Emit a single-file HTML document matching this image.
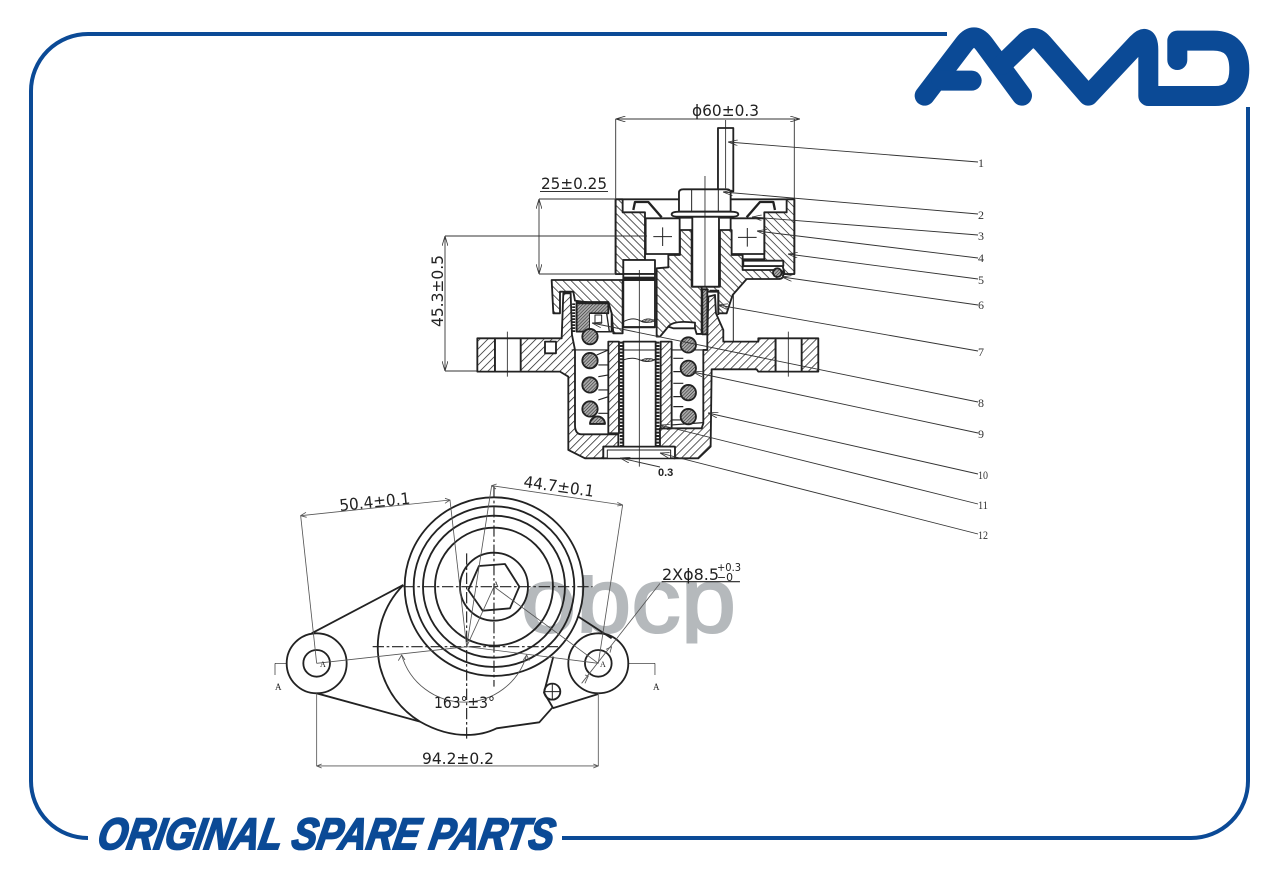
<!DOCTYPE html>
<html><head><meta charset="utf-8"><style>
html,body{margin:0;padding:0;background:#fff}
svg{display:block}
text{font-family:"Liberation Sans",sans-serif;fill:#222}
.n{font-family:"Liberation Serif",serif;font-size:12px;fill:#333}
.d{font-size:16px;font-family:"DejaVu Sans","Liberation Sans",sans-serif}
</style></head><body>
<svg width="1280" height="872" viewBox="0 0 1280 872" xmlns="http://www.w3.org/2000/svg">
<defs>
<pattern id="a" patternUnits="userSpaceOnUse" width="17" height="17" patternTransform="rotate(45)"><rect width="17" height="17" fill="#fff"/><line x1="0" y1="0" x2="0" y2="17" stroke="#222" stroke-width="4.5"/></pattern>
<pattern id="b" patternUnits="userSpaceOnUse" width="17" height="17" patternTransform="rotate(-45)"><rect width="17" height="17" fill="#fff"/><line x1="0" y1="0" x2="0" y2="17" stroke="#222" stroke-width="4.5"/></pattern>
<pattern id="c" patternUnits="userSpaceOnUse" width="7" height="7" patternTransform="rotate(45)"><rect width="7" height="7" fill="#aaa"/><line x1="0" y1="0" x2="0" y2="7" stroke="#222" stroke-width="3"/></pattern>
<marker id="ar" viewBox="0 0 10 6" refX="10" refY="3" markerWidth="10" markerHeight="6" orient="auto-start-reverse" markerUnits="userSpaceOnUse"><path d="M0,0L10,3L0,6" fill="none" stroke="#333" stroke-width="0.8"/></marker>
</defs>
<rect width="1280" height="872" fill="#fff"/>

<!-- watermark -->
<text x="521" y="632" font-size="92" textLength="215" lengthAdjust="spacingAndGlyphs" style="fill:#b5b9bc;stroke:#b5b9bc;stroke-width:2">obcp</text>
<rect x="570" y="555" width="50" height="20" fill="#fff"/>
<rect x="670" y="643.500" width="40" height="14" fill="#fff"/>

<!-- frame -->
<path d="M947,34H88A57,57 0 0 0 31,91V781A57,57 0 0 0 88,838" fill="none" stroke="#0b4a96" stroke-width="4"/>
<path d="M562,838H1191A57,57 0 0 0 1248,781V107" fill="none" stroke="#0b4a96" stroke-width="4"/>

<!-- logo -->
<g transform="translate(900,10) scale(.3333)" fill="none" stroke="#0b4a96" stroke-width="60" stroke-linecap="round" stroke-linejoin="round">
<path d="M74,257L192,102Q222,62 252,102L366,257"/>
<path d="M125,212H215"/>
<path d="M305,165L372,100Q400,68 428,100L565,257L712,100Q745,66 745,120V258H945Q1018,258 1018,178Q1018,92 940,92H832V150"/>
</g>

<!-- bottom text -->
<g transform="translate(96,850) skewX(-10)">
<text x="0" y="-1" font-size="44" font-weight="bold" textLength="456" lengthAdjust="spacingAndGlyphs" style="fill:#0b4a96;stroke:#0b4a96;stroke-width:2;font-style:italic">ORIGINAL SPARE PARTS</text>
</g>

<!-- section view -->
<g transform="translate(470,100) scale(.3333)" stroke="#222" stroke-width="5.5" stroke-linejoin="round" fill="#fff">
<rect x="744" y="84" width="46" height="190"/>
<line x1="767" y1="60" x2="767" y2="265" stroke-width="2.5"/>
<line x1="790" y1="560" x2="790" y2="725" stroke-width="3"/>
<!-- pulley -->
<rect x="437" y="298" width="536" height="224"/>
<path d="M437,298H458V337H525V480H460V522H437Z" fill="url(#b)"/>
<path d="M973,298H950V337H883V478H820V498H938L944,522H973Z" fill="url(#b)"/>
<rect x="820" y="482" width="120" height="16"/>
<path d="M490,330L495,306H535L575,352M915,330L910,306H870L830,352" fill="none" stroke-width="7"/>
<rect x="527" y="355" width="102" height="107"/>
<rect x="782" y="355" width="101" height="107"/>
<path d="M578,382V438M550,410H606M832,384V440M804,412H860" stroke-width="3"/>
<rect x="460" y="480" width="95" height="42"/>
<!-- hub -->
<path d="M560,505L595,502V465L630,465V390H665V560H695V702H680L675,685L660,680H595L570,710H560Z" fill="url(#b)"/>
<path d="M750,390H785V465H818V510H925Q940,510 940,525Q940,537 925,537H830L788,585L770,640H745V575H695V560H750Z" fill="url(#b)"/>
<circle cx="922" cy="518" r="13" fill="url(#c)"/>
<!-- bolt -->
<rect x="667" y="350" width="80" height="210"/>
<path d="M627,335V278Q627,268 640,268H770Q782,268 782,278V335Z"/>
<path d="M665,268V335M745,268V335" stroke-width="3"/>
<path d="M605,343Q605,335 628,335H782Q805,335 805,343Q805,350 782,350H628Q605,350 605,343Z"/>
<path d="M630,352H665M750,352H782" stroke-width="8" fill="none"/>
<line x1="705" y1="228" x2="705" y2="560" stroke-width="2.5"/>
<!-- arm -->
<path d="M245,540H458V700H430L425,640L415,615L315,602L310,575H270V640H250Z" fill="url(#b)"/>
<!-- central shaft -->
<rect x="460" y="522" width="95" height="160"/>
<rect x="460" y="530" width="95" height="13" fill="#222" stroke="none"/>
<path d="M460,665Q490,650 510,662T555,658M460,680H555" fill="none" stroke-width="3"/>
<path d="M515,663Q535,650 555,663Q535,672 515,663Z" fill="url(#c)" stroke-width="2"/>
<!-- housing -->
<path d="M22,715H75V815H22Z" fill="url(#a)"/>
<path d="M152,715H275L280,580H302L306,705L315,750V975Q315,1003 335,1003H445V1040H400V1075H345L295,1050V830L270,815H152Z" fill="url(#a)"/>
<rect x="225" y="725" width="33" height="35"/>
<path d="M712,710L715,590L735,585L738,640L760,690V725H865V715H917V815H865L860,808H725L722,1040L685,1075H612V1040H570V985H695L700,970V750H712Z" fill="url(#a)"/>
<path d="M995,715H1045V815H995Z" fill="url(#a)"/>
<path d="M75,715H152V815H75ZM917,715H995V815H917Z"/>
<line x1="112" y1="695" x2="112" y2="830" stroke-width="2.5"/>
<line x1="955" y1="695" x2="955" y2="830" stroke-width="2.5"/>
<!-- seal -->
<path d="M320,606H415L425,640V695H320Z" fill="#fff"/>
<path d="M320,610H415V640H360V695H320Z" fill="url(#c)"/>
<path d="M360,640H410L418,695H360" fill="#fff" stroke-width="4"/>
<path d="M375,645H395V670H375Z" fill="none" stroke-width="3"/>
<path d="M311,610V697" stroke-width="9" stroke-dasharray="5 4" fill="none"/>
<rect x="697" y="568" width="15" height="135" fill="url(#c)"/>
<path d="M720,572H745L745,645" fill="none"/>
<path d="M595,680Q610,660 675,668V685H610Z" fill="#fff"/>
<!-- sleeve -->
<rect x="415" y="725" width="32" height="275" fill="url(#a)"/>
<path d="M605,725H572V985H605Z" fill="url(#a)"/>
<path d="M454,725V1040M564,725V1040" stroke-width="9" stroke-dasharray="6 4" fill="none"/>
<rect x="460" y="725" width="97" height="320"/>
<line x1="460" y1="750" x2="557" y2="750" stroke-width="3"/>
<path d="M460,780Q490,770 510,780T555,778" fill="none" stroke-width="3"/>
<path d="M515,780Q535,770 555,780Q535,790 515,780Z" fill="url(#c)" stroke-width="2"/>
<!-- springs -->
<path d="M380,765L415,750M385,795H415M385,830L415,825M385,870H415M385,900L415,890M385,940H415M610,775H640M610,815H640M610,850H640M610,890H640M610,920H640M605,960H640M605,975L700,968" fill="none" stroke-width="3.5"/>
<path d="M305,750H415M605,750H705" fill="none" stroke-width="3.5"/>
<circle cx="360" cy="710" r="23" fill="url(#c)"/>
<circle cx="360" cy="782" r="23" fill="url(#c)"/>
<circle cx="360" cy="855" r="23" fill="url(#c)"/>
<circle cx="360" cy="927" r="23" fill="url(#c)"/>
<path d="M360,972A22,22 0 0 1 405,972Z" fill="url(#c)"/>
<circle cx="655" cy="735" r="23" fill="url(#c)"/>
<circle cx="655" cy="805" r="23" fill="url(#c)"/>
<circle cx="655" cy="878" r="23" fill="url(#c)"/>
<circle cx="655" cy="950" r="23" fill="url(#c)"/>
<rect x="400" y="1040" width="215" height="35"/>
<rect x="412" y="1050" width="190" height="25" stroke-width="3"/>
<line x1="508" y1="510" x2="508" y2="1100" stroke-width="2.5"/>
</g>

<!-- section dims & leaders -->
<g fill="none" stroke="#333" stroke-width="0.9">
<line x1="615.7" y1="119" x2="800" y2="119" marker-start="url(#ar)" marker-end="url(#ar)"/>
<line x1="615.7" y1="119" x2="615.7" y2="199"/>
<line x1="794.3" y1="119" x2="794.3" y2="199"/>
<line x1="539" y1="199" x2="539" y2="274" marker-start="url(#ar)" marker-end="url(#ar)"/>
<line x1="539" y1="199" x2="616" y2="199"/>
<line x1="539" y1="274" x2="616" y2="274"/>
<line x1="540" y1="191.500" x2="608" y2="191.500" stroke-width="1.1"/>
<line x1="445" y1="236" x2="445" y2="371" marker-start="url(#ar)" marker-end="url(#ar)"/>
<line x1="445" y1="236" x2="647" y2="236"/>
<line x1="445" y1="371" x2="477" y2="371"/>
<line x1="978" y1="162" x2="728" y2="142" marker-end="url(#ar)"/>
<line x1="978" y1="214" x2="723" y2="192" marker-end="url(#ar)"/>
<line x1="978" y1="235" x2="752" y2="217" marker-end="url(#ar)"/>
<line x1="978" y1="258" x2="757" y2="231" marker-end="url(#ar)"/>
<line x1="978" y1="279" x2="788" y2="254" marker-end="url(#ar)"/>
<line x1="978" y1="305" x2="782" y2="277" marker-end="url(#ar)"/>
<line x1="978" y1="351" x2="718" y2="305" marker-end="url(#ar)"/>
<line x1="978" y1="402" x2="592" y2="323" marker-end="url(#ar)"/>
<line x1="978" y1="433" x2="693" y2="372" marker-end="url(#ar)"/>
<line x1="978" y1="474" x2="708" y2="413" marker-end="url(#ar)"/>
<line x1="978" y1="504" x2="660" y2="425" marker-end="url(#ar)"/>
<line x1="978" y1="534" x2="660" y2="453" marker-end="url(#ar)"/>
<line x1="660" y1="467" x2="620" y2="458" marker-end="url(#ar)"/>
</g>
<text class="d" x="692" y="116" textLength="67" lengthAdjust="spacingAndGlyphs">ϕ60±0.3</text>
<text class="d" x="541" y="189" textLength="66" lengthAdjust="spacingAndGlyphs">25±0.25</text>
<text class="d" transform="translate(443,327) rotate(-90)" x="0" y="0" textLength="72" lengthAdjust="spacingAndGlyphs">45.3±0.5</text>
<text x="658" y="476" font-size="11" font-weight="bold">0.3</text>
<text class="n" x="978" y="167">1</text>
<text class="n" x="978" y="219">2</text>
<text class="n" x="978" y="240">3</text>
<text class="n" x="978" y="262">4</text>
<text class="n" x="978" y="284">5</text>
<text class="n" x="978" y="309">6</text>
<text class="n" x="978" y="356">7</text>
<text class="n" x="978" y="407">8</text>
<text class="n" x="978" y="438">9</text>
<text class="n" x="978" y="479" textLength="10" lengthAdjust="spacingAndGlyphs">10</text>
<text class="n" x="978" y="509" textLength="10" lengthAdjust="spacingAndGlyphs">11</text>
<text class="n" x="978" y="539" textLength="10" lengthAdjust="spacingAndGlyphs">12</text>

<!-- plan view -->
<g transform="translate(270,470) scale(.3333)" fill="none" stroke="#222" stroke-width="5.500" stroke-linejoin="round">
<circle cx="672" cy="350" r="268"/>
<circle cx="672" cy="350" r="241"/>
<circle cx="672" cy="350" r="213"/>
<circle cx="672" cy="350" r="177"/>
<circle cx="672" cy="350" r="102"/>
<path d="M627,288L705,282L748,350L720,415L638,422L595,360Z"/>
<circle cx="140" cy="580" r="90"/>
<circle cx="140" cy="580" r="40"/>
<circle cx="985" cy="580" r="90"/>
<circle cx="985" cy="580" r="40"/>
<path d="M125,490L400,345"/>
<path d="M140,670L450,755"/>
<path d="M925,440L1025,505"/>
<path d="M848,715L985,672"/>
<path d="M400,345A265,265 0 0 0 330,590Q360,700 450,755Q520,795 590,795Q640,795 680,775L808,757L848,712L822,668L850,560"/>
<circle cx="847" cy="665" r="24"/>
<path d="M823,665H871M847,641V689" stroke-width="3"/>
<g stroke-width="3.5" stroke-dasharray="34 8 8 8">
<line x1="400" y1="350" x2="968" y2="350"/>
<line x1="308" y1="530" x2="870" y2="530"/>
<line x1="590" y1="250" x2="590" y2="812"/>
<line x1="672" y1="50" x2="672" y2="650"/>
</g>
<path d="M15,580H50M1075,580H1155M15,580V615M1155,580V615" stroke-width="2"/>
<g stroke="#555" stroke-width="2.5">
<line x1="92" y1="137" x2="540" y2="90"/>
<line x1="92" y1="137" x2="140" y2="580"/>
<line x1="540" y1="90" x2="590" y2="530"/>
<line x1="665" y1="47" x2="1058" y2="105"/>
<line x1="665" y1="47" x2="590" y2="530"/>
<line x1="1058" y1="105" x2="985" y2="580"/>
<line x1="140" y1="670" x2="140" y2="888"/>
<line x1="985" y1="670" x2="985" y2="888"/>
<line x1="140" y1="888" x2="985" y2="888"/>
<line x1="140" y1="580" x2="590" y2="530"/>
<line x1="590" y1="530" x2="985" y2="580"/>
<line x1="672" y1="350" x2="590" y2="530"/>
<line x1="672" y1="350" x2="985" y2="580"/>
<line x1="1170" y1="340" x2="935" y2="640"/>
<path d="M395,555A195,195 0 0 0 770,555"/>
<path d="M108,127L92,137L110,142M525,85L540,90L525,100M680,42L665,47L678,57M1042,97L1058,105L1042,108M155,882L140,888L155,894M970,882L985,888L970,894M385,572L395,555L405,570M760,570L770,555L778,572M1008,538L1025,530L1020,548M945,615L955,618L945,640"/>
</g>
<line x1="1175" y1="335" x2="1410" y2="335" stroke-width="3.5"/>
</g>
<text class="d" transform="translate(340,511) rotate(-6)" textLength="71" lengthAdjust="spacingAndGlyphs">50.4±0.1</text>
<text class="d" transform="translate(523,487) rotate(8)" textLength="71" lengthAdjust="spacingAndGlyphs">44.7±0.1</text>
<text class="d" x="422" y="764" textLength="72" lengthAdjust="spacingAndGlyphs">94.2±0.2</text>
<text class="d" x="434" y="708" textLength="61" lengthAdjust="spacingAndGlyphs">163°±3°</text>
<text class="d" x="662" y="580" textLength="57" lengthAdjust="spacingAndGlyphs">2Xϕ8.5</text>
<text x="717" y="571" font-size="11" style="font-family:'DejaVu Sans',sans-serif" textLength="24" lengthAdjust="spacingAndGlyphs">+0.3</text>
<text x="717" y="581" font-size="11" style="font-family:'DejaVu Sans',sans-serif" textLength="16" lengthAdjust="spacingAndGlyphs">−0</text>
<text x="275" y="690" font-size="9" style="font-family:'Liberation Serif',serif">A</text>
<text x="653" y="690" font-size="9" style="font-family:'Liberation Serif',serif">A</text>
<text x="320" y="667" font-size="8" style="font-family:'Liberation Serif',serif">A</text>
<text x="600" y="667" font-size="8" style="font-family:'Liberation Serif',serif">A</text>
<text x="493" y="587" font-size="8" style="font-family:'Liberation Serif',serif">A</text>
</svg>
</body></html>
